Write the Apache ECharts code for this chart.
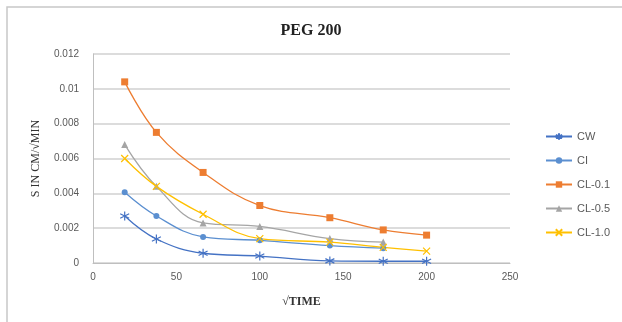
<!DOCTYPE html>
<html>
<head>
<meta charset="utf-8">
<script src="https://cdn.jsdelivr.net/npm/echarts@6/dist/echarts.min.js"></script>
<style>
  html, body { margin: 0; padding: 0; background: #fff; }
  #chart { width: 622px; height: 322px; }
</style>
</head>
<body>
<div id="chart"></div>
<script>
// √time positions shared by all series
const timeX = [19, 38, 66, 100, 142, 174, 200];
const seriesNames = ['CW', 'CI', 'CL-0.1', 'CL-0.5', 'CL-1.0'];
const cw    = [0.0027, 0.00138, 0.00056, 0.0004, 0.00012, 0.0001, 0.0001];
const ci    = [0.00406, 0.0027, 0.0015, 0.0013, 0.001, 0.00085];
const cl01  = [0.0104, 0.0075, 0.0052, 0.0033, 0.0026, 0.0019, 0.0016];
const cl05  = [0.0068, 0.0044, 0.0023, 0.0021, 0.0014, 0.0012];
const cl10  = [0.006, 0.0044, 0.0028, 0.0014, 0.0012, 0.0009, 0.00068];

const colors = ['#4472C4', '#5B8FD0', '#ED7D31', '#A5A5A5', '#FFC000'];
const star = 'path://M0,-5L0,5M-4.3,-2.5L4.3,2.5M-4.3,2.5L4.3,-2.5';
const cross = 'path://M-4,-4L4,4M-4,4L4,-4';
const symbols = [star, 'circle', 'rect', 'triangle', cross];
const symbolSizes = [9, 6, 7, 7, 7];
const values = [cw, ci, cl01, cl05, cl10];

const pairs = v => v.map((y, i) => [timeX[i], y]);

const chart = echarts.init(document.getElementById('chart'));
chart.setOption({
  animation: false,
  title: {
    text: 'PEG 200',
    left: 'center',
    top: 18,
    textStyle: { fontFamily: 'Liberation Serif', fontWeight: 'bold', fontSize: 16, color: '#222' }
  },
  grid: { left: 93, right: 112, top: 54, bottom: 59 },
  legend: {
    orient: 'vertical',
    left: 540,
    top: 126,
    itemGap: 13,
    itemWidth: 26,
    itemHeight: 8,
    textStyle: { fontFamily: 'Liberation Sans', fontSize: 11, color: '#595959' },
    data: seriesNames
  },
  xAxis: {
    type: 'value',
    min: 0, max: 250, interval: 50,
    name: '√TIME',
    nameLocation: 'middle',
    nameGap: 33,
    nameTextStyle: { fontFamily: 'Liberation Serif', fontWeight: 'bold', fontSize: 12, color: '#333' },
    axisLine: { lineStyle: { color: '#BFBFBF' } },
    axisTick: { show: false },
    axisLabel: { fontFamily: 'Liberation Sans', fontSize: 10, color: '#595959', margin: 9 },
    splitLine: { show: false }
  },
  yAxis: {
    type: 'value',
    min: 0, max: 0.012, interval: 0.002,
    name: 'S IN CM/√MIN',
    nameLocation: 'middle',
    nameGap: 51,
    nameTextStyle: { fontFamily: 'Liberation Serif', fontSize: 12, color: '#333' },
    axisLine: { show: true, lineStyle: { color: '#BFBFBF' } },
    axisTick: { show: false },
    axisLabel: { fontFamily: 'Liberation Sans', fontSize: 10, color: '#595959', margin: 14 },
    splitLine: { lineStyle: { color: '#D0D0D0', width: 1.5 } }
  },
  graphic: [{
    type: 'polyline',
    shape: { points: [[7, 322], [7, 7], [622, 7]] },
    style: { stroke: '#C8C8C8', lineWidth: 1.5, fill: null },
    silent: true
  }],
  series: seriesNames.map((name, k) => ({
    name,
    type: 'line',
    smooth: 0.4,
    data: pairs(values[k]),
    symbol: symbols[k],
    symbolSize: symbolSizes[k],
    showAllSymbol: true,
    color: colors[k],
    lineStyle: { color: colors[k], width: 1.3 },
    itemStyle: { color: colors[k], borderColor: colors[k], borderWidth: k === 0 || k === 4 ? 1.2 : 0 }
  }))
});
</script>
</body>
</html>
